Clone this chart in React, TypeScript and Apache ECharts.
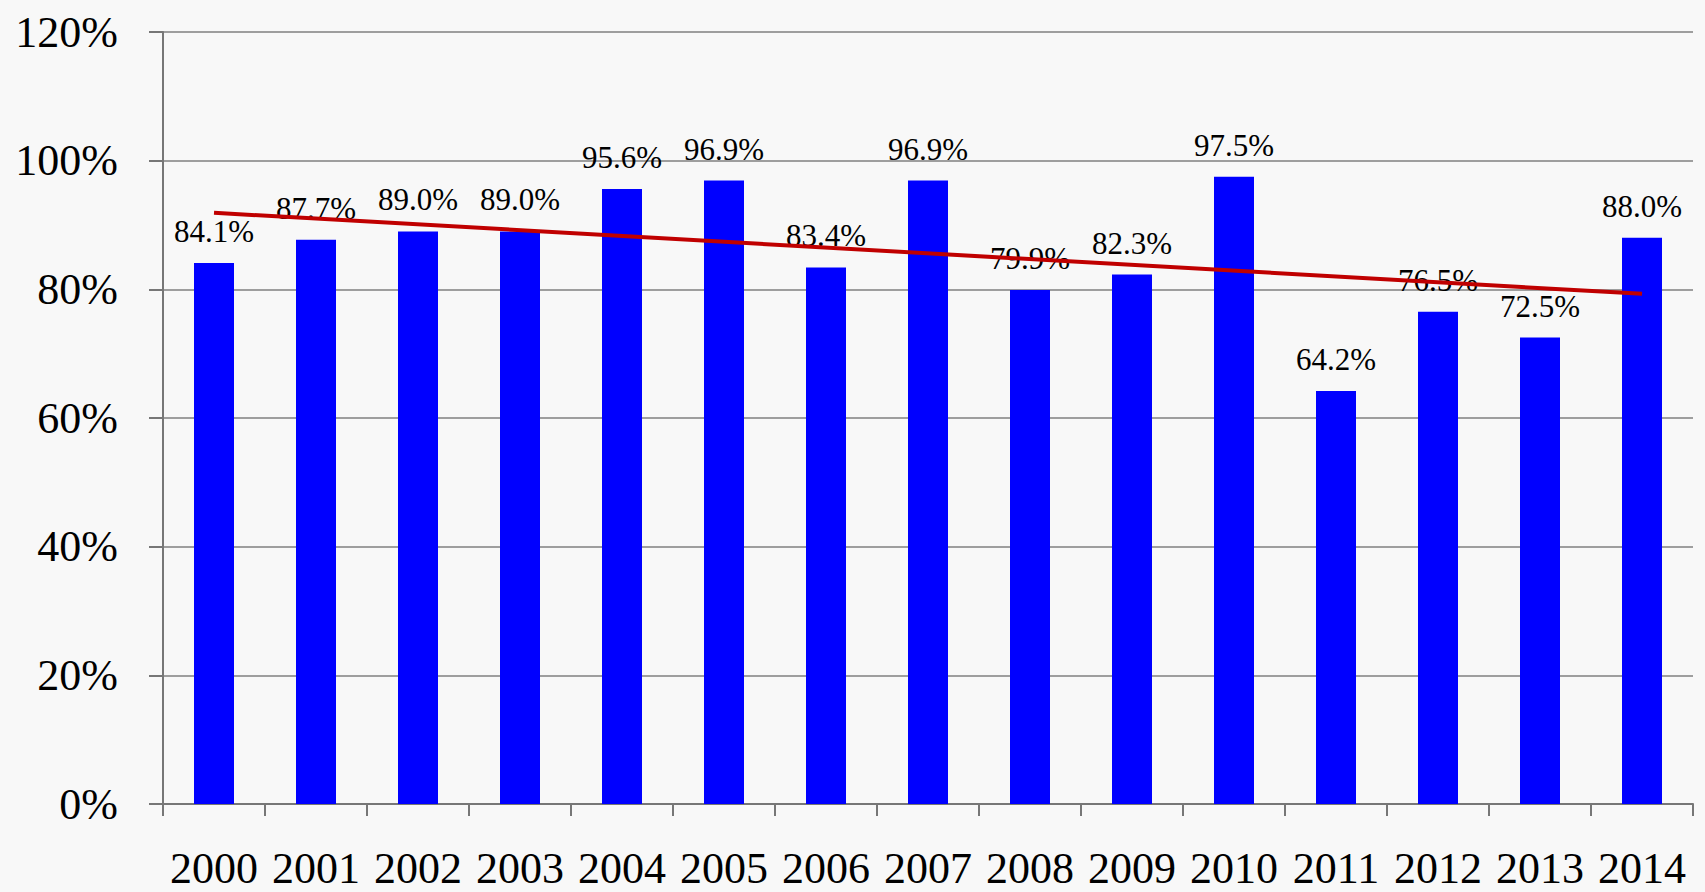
import React, { useEffect, useRef } from "react";
import * as echarts from "echarts";

const years = ["2000","2001","2002","2003","2004","2005","2006","2007","2008","2009","2010","2011","2012","2013","2014"];
const shares = [84.1, 87.7, 89.0, 89.0, 95.6, 96.9, 83.4, 96.9, 79.9, 82.3, 97.5, 64.2, 76.5, 72.5, 88.0];
// trend line end points (first and last year)
const trendEnds = [91.9, 79.3];
const yTicks = [0, 20, 40, 60, 80, 100, 120];

const FONT = "'Liberation Serif', 'Times New Roman', serif";

export default function App() {
  const ref = useRef<HTMLDivElement>(null);
  useEffect(() => {
    if (!ref.current) return;
    const chart = echarts.init(ref.current, null, { renderer: "svg" });
    const trend = years.map((_, i) =>
      i === 0 ? trendEnds[0] : i === years.length - 1 ? trendEnds[1] : null
    );
    chart.setOption({
      animation: false,
      backgroundColor: "#f8f8f8",
      grid: { left: 163, right: 12, top: 32, bottom: 88, containLabel: false },
      xAxis: {
        type: "category",
        data: years,
        boundaryGap: true,
        axisLine: { lineStyle: { color: "#777777", width: 2 } },
        axisTick: { show: true, length: 12, lineStyle: { color: "#777777", width: 2 } },
        axisLabel: {
          interval: 0,
          margin: 42,
          fontSize: 44,
          lineHeight: 44,
          fontFamily: FONT,
          color: "#000000",
        },
      },
      yAxis: {
        type: "value",
        min: yTicks[0],
        max: yTicks[yTicks.length - 1],
        interval: 20,
        axisLine: { show: true, lineStyle: { color: "#777777", width: 2 } },
        axisTick: { show: true, length: 14, lineStyle: { color: "#777777", width: 2 } },
        splitLine: { show: true, lineStyle: { color: "#808080", width: 1.5 } },
        axisLabel: {
          margin: 45,
          fontSize: 44,
          fontFamily: FONT,
          color: "#000000",
          formatter: (v: number) => `${v}%`,
        },
      },
      series: [
        {
          type: "bar",
          data: shares,
          barWidth: 40,
          itemStyle: { color: "#0000FF" },
          label: {
            show: true,
            position: "top",
            distance: 16,
            fontSize: 31,
            fontFamily: FONT,
            color: "#000000",
            formatter: (p: any) => `${Number(p.value).toFixed(1)}%`,
          },
          z: 2,
        },
        {
          type: "line",
          data: trend,
          connectNulls: true,
          symbol: "none",
          lineStyle: { color: "#C00000", width: 4 },
          z: 3,
        },
      ],
    });
    return () => chart.dispose();
  }, []);
  return (
    <div
      ref={ref}
      style={{ position: "fixed", left: 0, top: 0, width: 1705, height: 892 }}
    />
  );
}
